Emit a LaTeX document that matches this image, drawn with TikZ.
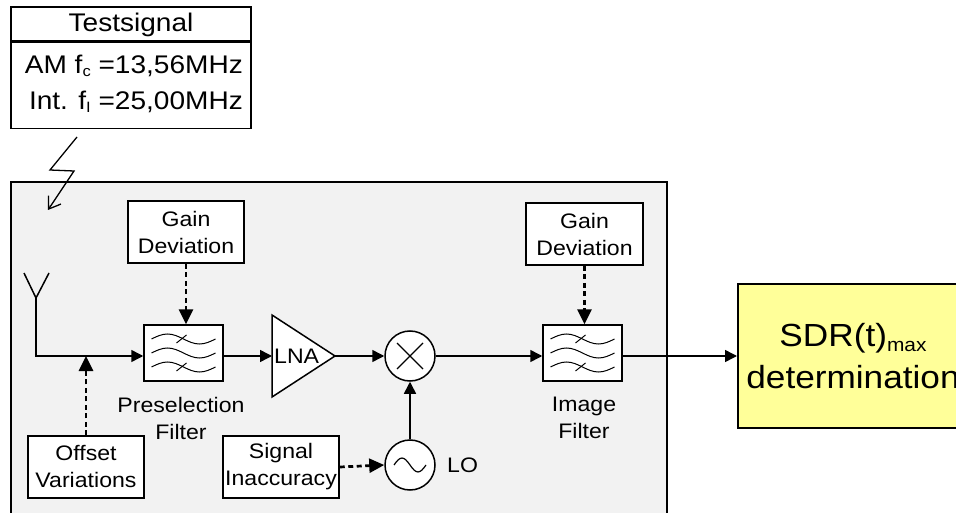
\documentclass[tikz,border=0pt]{standalone}
\usepackage{fontspec}
\setmainfont{Liberation Sans}[FakeStretch=1.1]
\usetikzlibrary{arrows.meta}
\definecolor{bggray}{HTML}{F2F2F2}
\definecolor{sdryellow}{HTML}{FFFF99}
\newcommand\filtersym[1]{%
  \begin{scope}[shift={(#1.center)}, line width=1pt]
    \foreach \dy in {-14,0,14}
      \draw (-32,\dy) sin (-16,\dy-5) cos (0,\dy) sin (16,\dy+5) cos (32,\dy);
    \draw (-7,-10) -- (3,-18);
    \draw (-7,18) -- (3,10);
  \end{scope}}
\begin{document}
\begin{tikzpicture}[x=1pt,y=-1pt,
  lw/.style={line width=1.5pt},
  smallfont/.style={font=\fontsize{21}{27}\selectfont},
  txtbox/.style={draw, lw, fill=white, inner sep=0pt, align=center, smallfont, minimum width=116, minimum height=62},
  lbl/.style={inner sep=0pt, align=center, smallfont},
  filterbox/.style={draw, lw, fill=white, inner sep=0pt, minimum width=79, minimum height=56},
  flow/.style={lw, -{Triangle[length=12pt,width=12pt]}},
  dotarrow/.style={line width=2.7pt, dash pattern=on 5pt off 3.5pt, -{Triangle[length=15pt,width=14pt]}}
]
\useasboundingbox (0,0) rectangle (956,513);
\clip (0,0) rectangle (956,513);

% Testsignal box
\node[draw, lw, inner sep=0pt, minimum width=240, minimum height=34, font=\fontsize{25.5}{30}\selectfont] (tshead) at (131,24) {};
\node[anchor=base, inner sep=0pt, font=\fontsize{25.5}{30}\selectfont] (tstitle) at (131,32) {Testsignal};
\node[draw, lw, inner sep=0pt, minimum width=240, minimum height=86, anchor=north] (tsbody) at (tshead.south) {};
\node[anchor=base east, inner sep=0pt, font=\fontsize{25.5}{30}\selectfont] (tsam) at (243,74)
  {AM f\raisebox{-3pt}{\fontsize{15}{15}\selectfont c} =13,56MHz};
\node[anchor=base east, inner sep=0pt, font=\fontsize{25.5}{30}\selectfont] (tsint) at (243,110)
  {Int. f\raisebox{-3pt}{\fontsize{15}{15}\selectfont I} =25,00MHz};

% receiver box
\draw[line width=2pt, fill=bggray] (11,182) rectangle (667,540);

% lightning
\coordinate (l1) at (77,137);
\coordinate (l2) at (50,170);
\coordinate (l3) at (74,171);
\coordinate (l4) at (48,210);
\draw[line width=1.3pt, -{Straight Barb[length=11pt,width=15pt]}] (l1) -- (l2) -- (l3) -- (l4);

% antenna
\coordinate (antL) at (24,273);
\coordinate (antR) at (49,273);
\coordinate (antV) at (36,298);
\draw[lw] (antL) -- (antV) -- (antR);

% blocks
\node[txtbox] (gd1) at (186,232) {Gain\\Deviation};
\node[txtbox, minimum width=117] (gd2) at (584.5,234) {Gain\\Deviation};
\node[filterbox] (pre) at (183.5,353) {};
\filtersym{pre}
\node[filterbox] (img) at (582.5,353) {};
\filtersym{img}
\node[lbl] (prelbl) at (181,418) {Preselection\\Filter};
\node[lbl] (imglbl) at (584,418) {Image\\Filter};

% LNA
\coordinate (lnaT) at (272,315);
\coordinate (lnaB) at (272,397);
\coordinate (lnaR) at (335,356);
\coordinate (lnaL) at (272,356);
\draw[lw, fill=white] (lnaT) -- (lnaR) -- (lnaB) -- cycle;
\node[lbl, anchor=west] (lna) at (274,356) {LNA};

% mixer
\node[draw, lw, circle, fill=white, minimum size=50, inner sep=0pt] (mix) at (410,356) {};
\draw[line width=1.2pt] ([shift={(-13,-13)}]mix.center) -- ([shift={(13,13)}]mix.center);
\draw[line width=1.2pt] ([shift={(-13,13)}]mix.center) -- ([shift={(13,-13)}]mix.center);

% LO
\node[draw, lw, circle, fill=white, minimum size=50, inner sep=0pt] (lo) at (410,465) {};
\draw[line width=1.2pt] ([shift={(-16,0)}]lo.center) sin ([shift={(-8,-7)}]lo.center) cos (lo.center) sin ([shift={(8,7)}]lo.center) cos ([shift={(16,0)}]lo.center);
\node[lbl, anchor=west] (lolbl) at (447,465) {LO};

\node[txtbox] (off) at (86,467) {Offset\\Variations};
\node[txtbox] (sig) at (281,467) {Signal\\Inaccuracy};

% SDR box
\node[draw, line width=2pt, fill=sdryellow, inner sep=0pt, minimum width=230, minimum height=144, align=center,
  font=\fontsize{32}{42}\selectfont] (sdr) at (853,356)
  {SDR(t)\raisebox{-5pt}{\fontsize{19}{19}\selectfont max}\\determination};

% connections
\coordinate (offJ) at (86,356);
\draw[flow] (antV) |- (pre.west |- offJ);
\draw[flow] (pre.east |- lnaL) -- (lnaL);
\draw[flow] (lnaR) -- (mix.west);
\draw[flow] (mix.east) -- (img.west |- mix.east);
\draw[flow] (img.east |- mix.east) -- (sdr.west |- mix.east);
\draw[flow] (lo.north) -- (mix.south);
\draw[dotarrow] (gd1.south) -- (gd1.south |- pre.north);
\draw[dotarrow] (gd2.south) -- (gd2.south |- img.north);
\draw[dotarrow] (off.north) -- (offJ);
\draw[dotarrow] (sig.east) -- (lo.west);
\end{tikzpicture}
\end{document}
